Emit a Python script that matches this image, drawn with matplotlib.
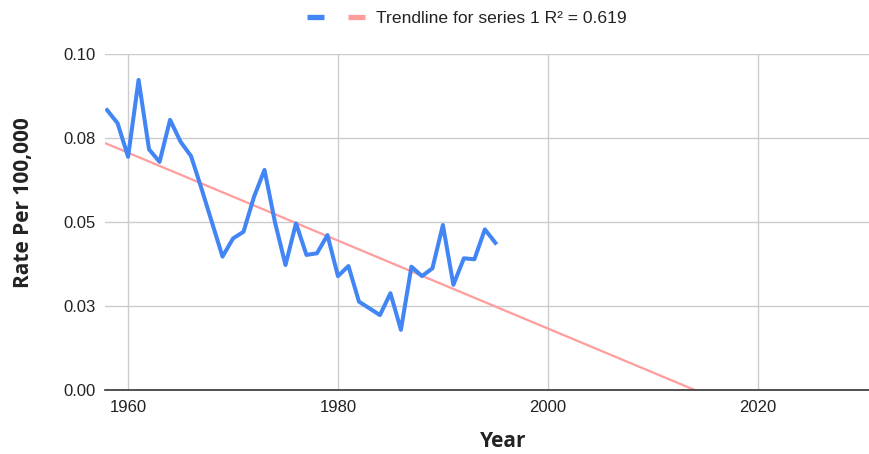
import matplotlib.pyplot as plt
import numpy as np

years = list(range(1958, 1996))
rates = [
    0.0833, 0.0794, 0.0694, 0.0923, 0.0716, 0.0679, 0.0804, 0.0739, 0.0696, 0.0599,
    0.0498, 0.0397, 0.0451, 0.0471, 0.0575, 0.0655, 0.0499, 0.0372, 0.0496, 0.0402,
    0.0407, 0.0461, 0.0339, 0.0369, 0.0263, 0.0243, 0.0223, 0.0288, 0.0179, 0.0367,
    0.0339, 0.0362, 0.0491, 0.0313, 0.0392, 0.0389, 0.0478, 0.0438,
]
y_ticks = [0.0, 0.025, 0.05, 0.075, 0.10]
y_tick_labels = ["0.00", "0.03", "0.05", "0.08", "0.10"]
x_ticks = [1960, 1980, 2000, 2020]
trend_label = "Trendline for series 1 R\u00b2 = 0.619"

plt.rcParams['font.family'] = ['Liberation Sans', 'DejaVu Sans']

fig = plt.figure(figsize=(8.7, 4.54), dpi=100)
ax = fig.add_axes([105 / 870, 64 / 454, 765 / 870, 336 / 454])

x = np.array(years)
y = np.array(rates)
# linear trendline fitted on the series
slope, intercept = np.polyfit(x, y, 1)
xt = np.array([1957, 2031])

line, = ax.plot(x, y, color='#4285F4', lw=2.9, zorder=3)
trend, = ax.plot(xt, slope * xt + intercept, color='#FF9C9C', lw=1.6, zorder=2)

ax.set_xlim(1957.8, 2030.7)
ax.set_ylim(0, 0.10)
ax.set_yticks(y_ticks)
ax.set_yticklabels(y_tick_labels)
ax.set_xticks(x_ticks)
ax.tick_params(length=0, labelsize=12, colors='#222222', pad=7)
ax.grid(True, color='#cccccc', lw=1)
ax.set_axisbelow(True)
for s in ['top', 'right', 'left']:
    ax.spines[s].set_visible(False)
ax.spines['bottom'].set_color('#333333')
ax.spines['bottom'].set_linewidth(1.2)

title_font = dict(family=['Open Sans', 'DejaVu Sans'], fontsize=15, fontweight='bold', color='#222222')
ax.set_xlabel('Year', va='center', **title_font)
ax.set_ylabel('Rate Per 100,000', va='center', **title_font)
ax.xaxis.set_label_coords(0.52, -0.152)
ax.yaxis.set_label_coords(-0.107, 0.557)

leg = fig.legend([line, trend], ['', trend_label], loc='center',
                 bbox_to_anchor=(466.5 / 870, 1 - 18.5 / 454), ncol=2, frameon=False,
                 fontsize=12.6, handlelength=0.97, handletextpad=0.63, columnspacing=0.74)
for h in leg.get_lines():
    h.set_linewidth(3.8)
    h.set_solid_capstyle('butt')
for t in leg.get_texts():
    t.set_color('#222222')

fig.savefig('out.png', dpi=100)
